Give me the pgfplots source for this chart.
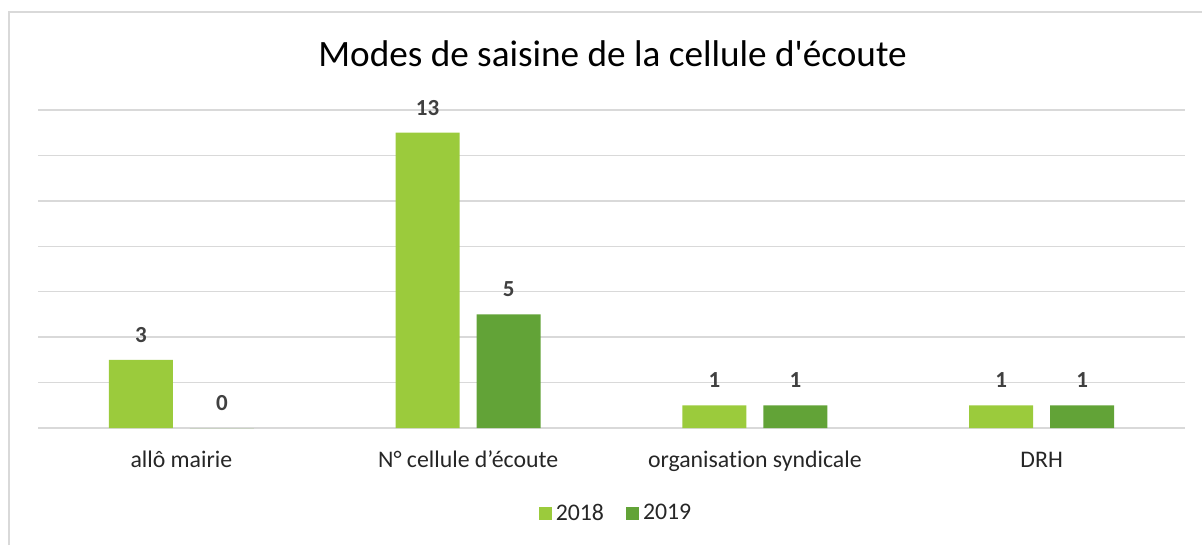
\documentclass[border=0pt]{standalone}
\usepackage{fontspec}
\setmainfont{Carlito}[Ligatures={NoCommon,TeXOff}]
\usepackage{pgfplots}
\pgfplotsset{compat=1.18}
\definecolor{lg}{HTML}{9BCB3C}
\definecolor{dg}{HTML}{62A337}
\definecolor{gridc}{HTML}{D9D9D9}
\definecolor{lab}{HTML}{404040}
\definecolor{tick}{HTML}{262626}
\begin{document}
\begin{tikzpicture}
\path[use as bounding box] (0,0) rectangle (601pt,272.5pt);
\draw[gridc, line width=1pt] (4.25pt,0) -- (4.25pt,266.5pt) -- (601pt,266.5pt);
\node[font=\fontsize{18.6}{22}\selectfont, anchor=base, inner sep=0pt] at (306.25pt,239pt) {Modes de saisine de la cellule d'écoute};
\begin{axis}[
  at={(19pt,58.5pt)}, anchor=south west, scale only axis,
  width=573.5pt, height=159pt,
  clip=false,
  ymin=0, ymax=14, ytick={0,2,...,14}, yticklabels={},
  ymajorgrids, grid style={gridc, line width=0.75pt},
  xmin=-0.5, xmax=3.5, xtick={0,1,2,3},
  xticklabels={allô mairie, N° cellule d’écoute, organisation syndicale, DRH},
  axis line style={draw=none}, major tick length=0pt,
  xticklabel style={anchor=base, yshift=-19.5pt, font=\fontsize{11.9}{14}\selectfont, text=tick},
  ybar, bar width=32pt,
  /pgf/number format/assume math mode=true,
  nodes near coords,
  nodes near coords style={anchor=base, yshift=8.75pt, font=\bfseries\fontsize{11.5}{13}\selectfont, text=lab},
  legend columns=2,
  legend style={at={(0.5048,-0.269)}, anchor=center, draw=none, fill=none,
    font=\fontsize{11.9}{14}\selectfont, text=tick,
    /tikz/every even column/.append style={column sep=9pt}},
  legend image code/.code={\fill[#1] (0pt,-3.25pt) rectangle (6.5pt,3.25pt);},
]
\addplot[fill=lg, draw=none, bar shift=-20.25pt] coordinates {(0,3) (1,13) (2,1) (3,1)};
\addplot[fill=dg, draw=none, bar shift=20.25pt] coordinates {(0,0) (1,5) (2,1) (3,1)};
\legend{2018,2019}
\end{axis}
\end{tikzpicture}
\end{document}
